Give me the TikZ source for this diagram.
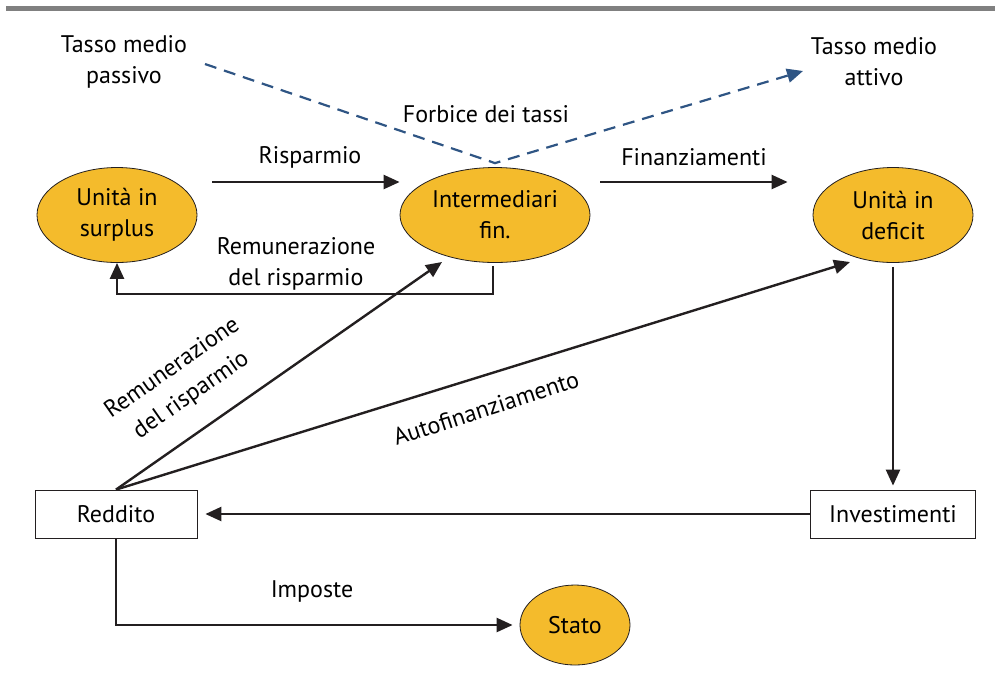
\documentclass[tikz,border=0pt]{standalone}
\usepackage{fontspec}
\setmainfont{PT Sans}
\usepackage{tikz}
\usetikzlibrary{shapes.geometric,arrows.meta}
\usepackage{xcolor}
\definecolor{unitfill}{RGB}{244,187,44}
\definecolor{rateblue}{RGB}{47,85,132}
\definecolor{flowblack}{RGB}{35,31,32}

\tikzset{
  unit/.style={ellipse, draw=flowblack, thin, fill=unitfill, align=center, inner sep=0pt, minimum width=80pt, minimum height=47.5pt},
  account/.style={draw=flowblack, thin, minimum width=81pt, minimum height=24pt, inner sep=0pt},
  flow/.style={draw=flowblack, line width=1.2pt, -{Triangle[length=8pt,width=7pt]}},
  rate/.style={draw=rateblue, line width=1.1pt, dash pattern=on 6pt off 4pt, -{Triangle[length=8pt,width=7pt]}},
  lbl/.style={align=center, inner sep=0pt}
}

\begin{document}
\begin{tikzpicture}[x=0.5pt, y=-0.5pt, font=\fontsize{12}{15.5}\selectfont]
        \useasboundingbox (0, 0) rectangle (995, 682);
        \draw[line width=2.2pt, gray] (6, 8.5) -- (995, 8.5);

        \node[unit] (surplus) at (117, 215) {Unità in\\surplus};
        \node[unit, minimum width=95pt] (interm) at (495, 215) {Intermediari\\fin.};
        \node[unit] (deficit) at (893, 215) {Unità in\\deficit};
        \node[unit, minimum width=55pt, minimum height=40pt] (stato) at (575, 625) {Stato};

        \node[account] (reddito) at (116, 514) {Reddito};
        \node[account, minimum width=82.5pt] (invest) at (893, 514) {Investimenti};

        \node[lbl] (passivo) at (124, 62) {Tasso medio\\passivo};
        \node[lbl] (attivo) at (874, 62) {Tasso medio\\attivo};
        \node[lbl] at (486, 114) {Forbice dei tassi};
        \coordinate (passivoend) at (205, 64);
        \coordinate (attivoend) at (803, 71);

        \draw[rate] (passivoend) -- ([yshift=2]interm.north) -- (attivoend);

        \draw[flow] ([shift={(15,-33)}]surplus.east) -- ([shift={(0,-33)}]interm.west);
        \node[lbl] at (310, 157) {Risparmio};

        \draw[flow] ([shift={(10,-33)}]interm.east) -- ([shift={(-25,-33)}]deficit.west);
        \node[lbl] at (694, 157) {Finanziamenti};

        \draw[flow] ([shift={(-2,3)}]interm.south) -- ++(0, 28) -| (surplus.south);
        \node[lbl] at (296, 264) {Remunerazione\\del risparmio};

        \draw[flow] (reddito.north) -- ([shift={(-53,47)}]interm.center);
        \node[lbl, rotate=35, font=\fontsize{12}{16.5}\selectfont] at (182, 382) {Remunerazione\\del risparmio};

        \draw[flow] (reddito.north) -- ([shift={(-43,47)}]deficit.center);
        \node[lbl, rotate=18] at (486, 408) {Autofinanziamento};

        \draw[flow, shorten <=2pt, shorten >=2pt] (deficit.south) -- (invest.north);
        \draw[flow, shorten >=4pt] (invest.west) -- (reddito.east);

        \draw[flow, shorten >=3.5pt] (reddito.south) |- (stato.west);
        \node[lbl] at (312, 591) {Imposte};
    \end{tikzpicture}
\end{document}
